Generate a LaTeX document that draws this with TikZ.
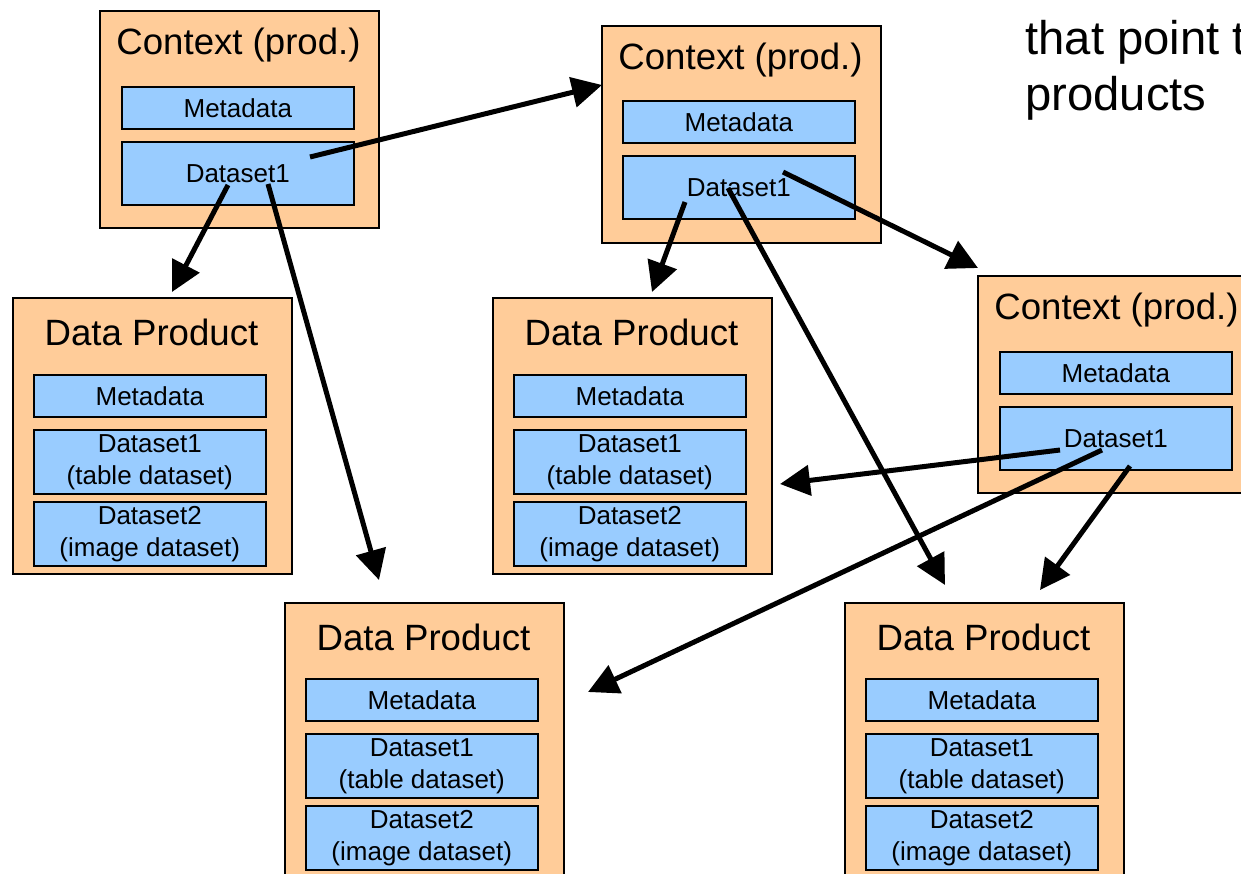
\documentclass[tikz,border=0pt]{standalone}
\usepackage{fontspec}
\setmainfont{Liberation Sans}
\usetikzlibrary{arrows.meta}
\definecolor{peach}{HTML}{FFCC99}
\definecolor{sky}{HTML}{99CCFF}
\tikzstyle{boxbase} = [draw=black, fill=peach, line width=0.8pt, anchor=north west, minimum width=139.5pt, inner sep=0pt]
\tikzstyle{ctx} = [boxbase, minimum height=108.5pt]
\tikzstyle{prod} = [boxbase, minimum height=138pt]
\tikzstyle{head} = [font={\fontsize{18.3}{22}\selectfont}]
\tikzstyle{part} = [draw=black, fill=sky, line width=0.8pt, anchor=north west, minimum width=116pt, inner sep=0pt, align=center, font={\fontsize{13}{16}\selectfont}]
\tikzstyle{meta} = [part, minimum height=21pt]
\tikzstyle{ds} = [part, minimum height=32pt]
\tikzstyle{note} = [anchor=base west, inner sep=0pt, font={\fontsize{23.6}{28}\selectfont}]
\tikzstyle{link} = [line width=2.5pt, -{Triangle[length=15pt,width=15pt]}]

\begin{document}
\begin{tikzpicture}[x=0.5pt,y=-0.5pt]
  \clip (0,0) rectangle (1241,873);
  % context products
  \node[ctx](c1) at (99,10){};
  \node[head](c1t) at (238.5,45){Context (prod.)};
  \node[meta](c1m) at (121,86){Metadata};
  \node[ds,minimum height=31.5pt](c1d) at (121,141){Dataset1};
  \node[ctx](c2) at (601,25){};
  \node[head](c2t) at (740.5,60){Context (prod.)};
  \node[meta](c2m) at (622,100){Metadata};
  \node[ds,minimum height=31.5pt](c2d) at (622,155){Dataset1};
  \node[ctx](c3) at (977,275){};
  \node[head](c3t) at (1116.5,310){Context (prod.)};
  \node[meta](c3m) at (999,351){Metadata};
  \node[ds,minimum height=31.5pt](c3d) at (999,406){Dataset1};
  % data products
  \node[prod](p1) at (12,297){};
  \node[head](p1t) at (151.5,332){Data Product};
  \node[meta](p1m) at (33,374){Metadata};
  \node[ds](p1a) at (33,429){Dataset1\\(table dataset)};
  \node[ds](p1b) at (33,501){Dataset2\\(image dataset)};
  \node[prod](p2) at (492,297){};
  \node[head](p2t) at (631.5,332){Data Product};
  \node[meta](p2m) at (513,374){Metadata};
  \node[ds](p2a) at (513,429){Dataset1\\(table dataset)};
  \node[ds](p2b) at (513,501){Dataset2\\(image dataset)};
  \node[prod](p3) at (284,602){};
  \node[head](p3t) at (423.5,637){Data Product};
  \node[meta](p3m) at (305,678){Metadata};
  \node[ds](p3a) at (305,733){Dataset1\\(table dataset)};
  \node[ds](p3b) at (305,805){Dataset2\\(image dataset)};
  \node[prod](p4) at (844,602){};
  \node[head](p4t) at (983.5,637){Data Product};
  \node[meta](p4m) at (865,678){Metadata};
  \node[ds](p4a) at (865,733){Dataset1\\(table dataset)};
  \node[ds](p4b) at (865,805){Dataset2\\(image dataset)};
  % text at the right
  \node[note](n1) at (1025,54){that point t};
  \node[note](n2) at (1025,110){products};
  % arrow ends
  \coordinate (a1) at (310,157); \coordinate (b1) at (602,85);
  \coordinate (a2) at (228,185); \coordinate (b2) at (172,292);
  \coordinate (a3) at (268,184); \coordinate (b3) at (379,580);
  \coordinate (a4) at (685,202); \coordinate (b4) at (652,292);
  \coordinate (a5) at (728,188); \coordinate (b5) at (945,585);
  \coordinate (a6) at (783,172); \coordinate (b6) at (978,268);
  \coordinate (a7) at (1060,450); \coordinate (b7) at (780,484);
  \coordinate (a8) at (1102,450); \coordinate (b8) at (588,692);
  \coordinate (a9) at (1130,466); \coordinate (b9) at (1040,590);
  \draw[link](a1)--(b1);
  \draw[link](a2)--(b2);
  \draw[link](a3)--(b3);
  \draw[link](a4)--(b4);
  \draw[link](a5)--(b5);
  \draw[link](a6)--(b6);
  \draw[link](a7)--(b7);
  \draw[link](a8)--(b8);
  \draw[link](a9)--(b9);
\end{tikzpicture}
\end{document}
